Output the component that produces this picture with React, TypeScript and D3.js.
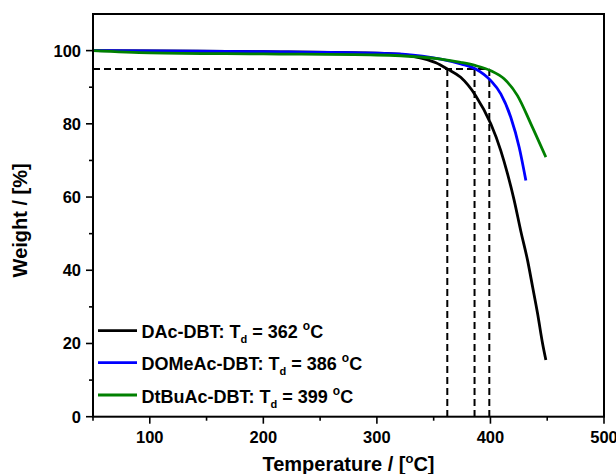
import React from "react";
import * as d3 from "d3";

const W = 616;
const H = 474;

// Temperature (°C) / Weight (%) readings
const tempDAc = [50, 100, 200, 288, 320, 340, 352, 362, 373.8, 387, 400.3, 409.1, 415, 420.9, 426.8, 432.7, 437.1, 441.5, 445.9, 448.8];
const wDAc = [100, 99.9, 99.7, 99.4, 99.0, 97.9, 96.7, 95.0, 92.7, 87.7, 80.0, 72.7, 66.4, 59.1, 50.6, 42.7, 35.5, 28.2, 20.0, 15.5];

const tempDOMeAc = [50, 100, 200, 300, 340, 356.2, 373.8, 387, 400.3, 409.1, 417.9, 425.3, 431.2];
const wDOMeAc = [100, 99.9, 99.7, 99.3, 98.5, 97.7, 96.4, 95.0, 91.8, 88.2, 81.8, 73.6, 64.5];

const tempDtBuAc = [50, 100, 200, 300, 340, 356.2, 373.8, 387, 400.3, 412, 423.8, 435.6, 448.8];
const wDtBuAc = [100, 99.4, 99.1, 98.8, 98.2, 97.7, 96.8, 95.9, 94.5, 92.3, 87.7, 80.0, 70.9];

const seriesNames = ["DAc-DBT", "DOMeAc-DBT", "DtBuAc-DBT"];
const seriesTd = [362, 386, 399];
const seriesColors = ["#000000", "#0000ff", "#008000"];

const xMajorTicks = [100, 200, 300, 400, 500];
const xMinorTicks = [50, 150, 250, 350, 450];
const yMajorTicks = [0, 20, 40, 60, 80, 100];
const yMinorTicks = [10, 30, 50, 70, 90];
const tdLevel = 95;

const FONT = "'Liberation Sans', Arial, sans-serif";

export default function App() {
  const left = 93, right = 604, top = 14, bottom = 416.7;
  const x = d3.scaleLinear().domain([50, 500]).range([left, right]);
  const y = d3.scaleLinear().domain([0, 110]).range([bottom, top]);

  const series = [
    tempDAc.map((t, i) => [t, wDAc[i]] as [number, number]),
    tempDOMeAc.map((t, i) => [t, wDOMeAc[i]] as [number, number]),
    tempDtBuAc.map((t, i) => [t, wDtBuAc[i]] as [number, number]),
  ];
  const line = d3
    .line<[number, number]>()
    .x((d) => x(d[0]))
    .y((d) => y(d[1]))
    .curve(d3.curveMonotoneX);

  const dash = "7,4";
  const legendY = [330.7, 362.7, 395];

  return (
    <svg
      width={W}
      height={H}
      style={{ position: "absolute", left: 0, top: 0, background: "#fff" }}
      fontFamily={FONT}
      fontWeight="bold"
    >
      {/* dashed Td guides */}
      <line x1={x(50)} x2={x(d3.max(seriesTd)!)} y1={y(tdLevel)} y2={y(tdLevel)} stroke="#000" strokeWidth={2} strokeDasharray={dash} />
      {seriesTd.map((t) => (
        <line key={t} x1={x(t)} x2={x(t)} y1={y(tdLevel)} y2={y(0)} stroke="#000" strokeWidth={2} strokeDasharray={dash} />
      ))}

      {/* curves */}
      {series.map((s, i) => (
        <path key={i} d={line(s)!} fill="none" stroke={seriesColors[i]} strokeWidth={2.8} />
      ))}

      {/* frame */}
      <rect x={left} y={top} width={right - left} height={bottom - top} fill="none" stroke="#000" strokeWidth={2} />

      {/* x ticks */}
      {xMajorTicks.map((t) => (
        <g key={"xm" + t}>
          <line x1={x(t)} x2={x(t)} y1={bottom} y2={bottom + 7} stroke="#000" strokeWidth={1.6} />
          <text x={x(t)} y={442.5} textAnchor="middle" fontSize={16.5}>{t}</text>
        </g>
      ))}
      {xMinorTicks.map((t) => (
        <line key={"xn" + t} x1={x(t)} x2={x(t)} y1={bottom} y2={bottom + 4} stroke="#000" strokeWidth={1.6} />
      ))}

      {/* y ticks */}
      {yMajorTicks.map((t) => (
        <g key={"ym" + t}>
          <line x1={left - 7} x2={left} y1={y(t)} y2={y(t)} stroke="#000" strokeWidth={1.6} />
          <text x={81} y={y(t)} dy="0.36em" textAnchor="end" fontSize={16.5}>{t}</text>
        </g>
      ))}
      {yMinorTicks.map((t) => (
        <line key={"yn" + t} x1={left - 4} x2={left} y1={y(t)} y2={y(t)} stroke="#000" strokeWidth={1.6} />
      ))}

      {/* axis titles */}
      <text x={348.5} y={471} textAnchor="middle" fontSize={20}>
        Temperature / [<tspan fontSize={13} dy={-8}>o</tspan><tspan dy={8}>C]</tspan>
      </text>
      <text transform={`translate(27,${(top + bottom) / 2 + 5}) rotate(-90)`} textAnchor="middle" fontSize={20}>
        Weight / [%]
      </text>

      {/* legend */}
      {seriesNames.map((n, i) => (
        <g key={n}>
          <line x1={98} x2={137} y1={legendY[i]} y2={legendY[i]} stroke={seriesColors[i]} strokeWidth={2.8} />
          <text x={141.5} y={legendY[i] + 7.5} fontSize={18}>
            {n}: T<tspan fontSize={11} dy={5}>d</tspan>
            <tspan dy={-5}> = {seriesTd[i]} </tspan>
            <tspan fontSize={12} dy={-8}>o</tspan>
            <tspan dy={8}>C</tspan>
          </text>
        </g>
      ))}
    </svg>
  );
}
